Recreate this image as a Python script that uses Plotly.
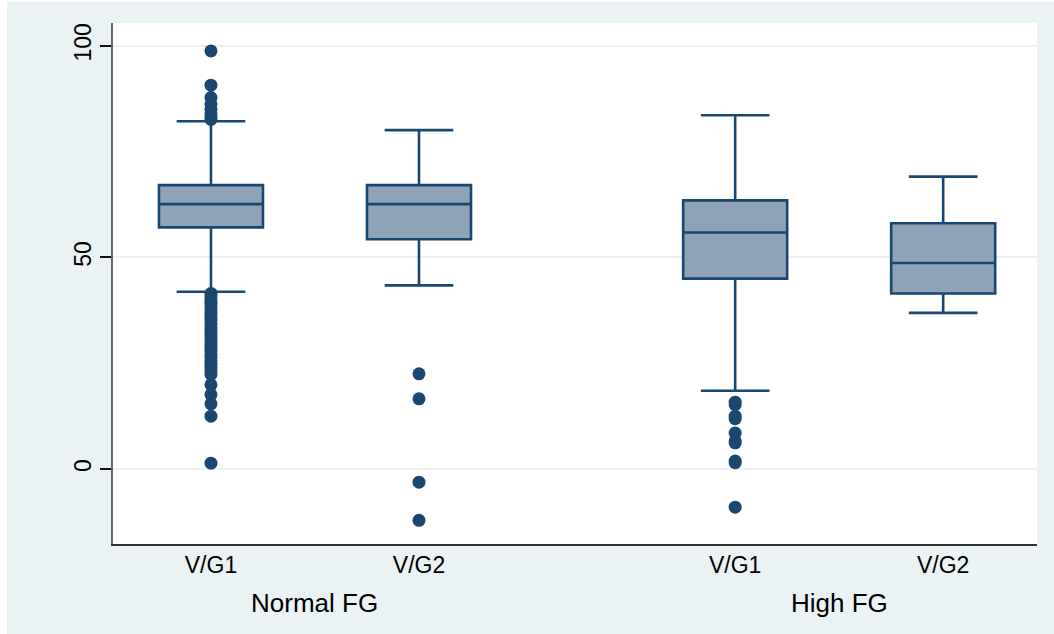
import plotly.graph_objects as go

# ---- data ----
groups = ["Normal FG", "High FG"]
sub_labels = ["V/G1", "V/G2", "V/G1", "V/G2"]

q1 = [57.1, 54.3, 45.0, 41.5]
median = [62.6, 62.6, 55.9, 48.7]
q3 = [67.1, 67.1, 63.5, 58.1]
lowerfence = [41.9, 43.4, 18.5, 36.9]
upperfence = [82.2, 80.1, 83.6, 69.1]

out_normal_vg1 = [98.8, 90.7, 87.8, 86.2, 85.0, 84.0, 83.2, 82.6,
                  41.5, 40.8, 40.0, 39.2, 38.4, 37.6, 36.8, 36.0, 35.2,
                  34.4, 33.6, 32.8, 32.0, 31.2, 30.4, 29.6, 28.8, 28.0,
                  27.2, 26.4, 25.6, 24.8, 24.0, 23.2, 22.4, 19.9, 17.6,
                  15.4, 12.5, 1.4]
out_normal_vg2 = [22.5, 16.6, -3.1, -12.1]
out_high_vg1 = [15.8, 15.2, 12.5, 11.9, 8.5, 6.7, 6.2, 1.9, 1.5, -9.0]
out_high_vg2 = []

outliers = [out_normal_vg1, out_normal_vg2, out_high_vg1, out_high_vg2]

# ---- layout helpers ----
group_gap = 0.52
positions = [1.0, 2.0, 3.0 + group_gap, 4.0 + group_gap]
navy = "#1A476F"
fill = "#8FA3B8"
bg = "#EAF2F3"
font_family = "Liberation Sans, Arial, sans-serif"

fig = go.Figure()
fig.add_trace(go.Box(
    x=positions, q1=q1, median=median, q3=q3,
    lowerfence=lowerfence, upperfence=upperfence,
    width=0.5, whiskerwidth=0.66,
    fillcolor=fill, line=dict(color=navy, width=2.6),
    boxpoints=False, showlegend=False, hoverinfo="skip",
))

for pos, vals in zip(positions, outliers):
    if vals:
        fig.add_trace(go.Scatter(
            x=[pos] * len(vals), y=vals, mode="markers",
            marker=dict(color=navy, size=13, line=dict(width=0)),
            showlegend=False, hoverinfo="skip",
        ))

group_centers = [(positions[0] + positions[1]) / 2, (positions[2] + positions[3]) / 2]
for gx, g in zip(group_centers, groups):
    fig.add_annotation(x=gx, y=0, xref="x", yref="paper", text=g,
                       showarrow=False, yanchor="middle", yshift=-59,
                       font=dict(size=26, color="black", family=font_family))

fig.update_layout(
    width=1047, height=632,
    margin=dict(l=106, r=17, t=21, b=90),
    paper_bgcolor=bg, plot_bgcolor="white",
    font=dict(family=font_family, color="black"),
    xaxis=dict(
        range=[0.529, 4.971], tickvals=positions, ticktext=sub_labels,
        showgrid=False, zeroline=False, showline=True, linecolor="#333333",
        linewidth=1.5, ticks="", tickfont=dict(size=23), ticklabelstandoff=0,
    ),
    yaxis=dict(
        range=[-17.7, 105.4], tickvals=[0, 50, 100], ticktext=["0", "50", "100"],
        tickangle=-90, tickfont=dict(size=23),
        showgrid=True, gridcolor=bg, gridwidth=2,
        zeroline=False, showline=True, linecolor="#666666", linewidth=2,
        ticks="outside", ticklen=11, tickcolor="#111111", tickwidth=2,
    ),
)

fig.write_html("out.html", post_script="document.body.style.margin='2px 0 0 7px';")
